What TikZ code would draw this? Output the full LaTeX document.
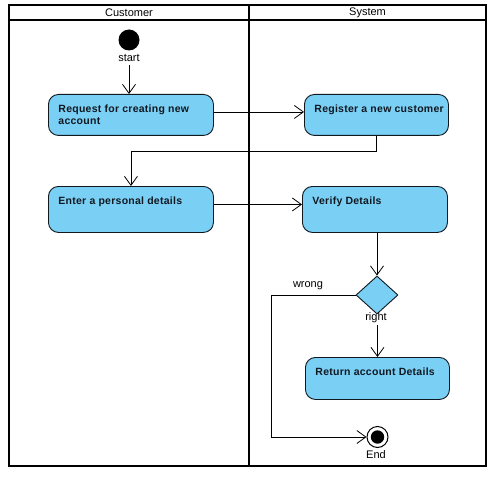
\documentclass[tikz,border=0pt]{standalone}
\usepackage{fontspec}
\setmainfont{Liberation Sans}
\newfontfamily\actfont[LetterSpace=2.5]{Liberation Sans}
\usetikzlibrary{arrows.meta,shapes.geometric}

\definecolor{actfill}{HTML}{7ACFF5}
\definecolor{ink}{HTML}{101820}

% activity body: fixed width and height, text set at the top left
\newcommand\actbody[3]{\parbox[t][#2][t]{#1}{\raggedright\leftskip=10pt\rule{0pt}{18pt}#3}}

\tikzset{
  act/.style={draw=ink, line width=0.9pt, fill=actfill, rounded corners=10pt,
    inner sep=0pt, anchor=north west,
    font=\actfont\bfseries\fontsize{10.5}{12}\selectfont, text=ink},
  flow/.style={draw=black, line width=0.8pt,
    -{Straight Barb[length=9pt,width=13pt,line width=0.8pt]}},
  lane/.style={line width=1.6pt},
  lbl/.style={font=\fontsize{11}{12}\selectfont, inner sep=0pt},
  decision/.style={diamond, draw=ink, line width=0.9pt, fill=actfill,
    minimum width=42pt, minimum height=38pt, inner sep=0pt, aspect=1.1},
  initial/.style={circle, fill=black, minimum size=21pt, inner sep=0pt},
  final/.style={circle, draw=black, line width=1pt, fill=white,
    minimum size=21pt, inner sep=0pt,
    path picture={\fill[black] (path picture bounding box.center) circle (6.7pt);}}
}

\begin{document}
\begin{tikzpicture}[x=1pt,y=-1pt]
\useasboundingbox (0,0) rectangle (497,481);

% swimlanes
\draw[lane] (9,5) rectangle (486,466);
\draw[lane] (9,20) -- (486,20);
\draw[lane] (249,5) -- (249,466);
\node[lbl] (lanec) at (129,13) {Customer};
\node[lbl] (lanes) at (367.5,13) {System};

% start
\node[initial] (start) at (129,40) {};
\node[lbl, anchor=base] (startlbl) at (129,62) {start};

% activities
\node[act] (n1) at (48,94)  {\actbody{165pt}{41pt}{Request for creating new\\account}};
\node[act] (n2) at (304,94) {\actbody{144pt}{41pt}{Register a new customer}};
\node[act] (n3) at (48,186) {\actbody{165pt}{46pt}{Enter a personal details}};
\node[act] (n4) at (302,186){\actbody{145pt}{46pt}{Verify Details}};
\node[act] (n5) at (305,357){\actbody{144pt}{42pt}{Return account Details}};

% decision
\node[decision] (dia) at (377,295) {};
\node[lbl, anchor=base] (wronglbl) at (308,287) {wrong};
\node[lbl, anchor=base] (rightlbl) at (376,320) {right};

% end
\node[final] (end) at (377.5,437) {};
\node[lbl, anchor=base] (endlbl) at (376,458) {End};

% flows
\draw[flow] ([yshift=-3pt]startlbl.south) -- (startlbl.south |- n1.north);
\draw[flow] ([yshift=3pt]n1.east) -- ([yshift=3pt]n1.east -| n2.west);
\draw[flow] (n2.south) -- ++(0,16) -| (n3.north);
\draw[flow] ([yshift=5pt]n3.east) -- ([yshift=5pt]n3.east -| n4.west);
\draw[flow] (dia.north |- n4.south) -- (dia.north);
\draw[flow] ([yshift=-3pt]n5.north |- rightlbl.south) -- (n5.north);
\draw[flow] (dia.west) -- ++(-84,0) |- (end.west);
\end{tikzpicture}
\end{document}
